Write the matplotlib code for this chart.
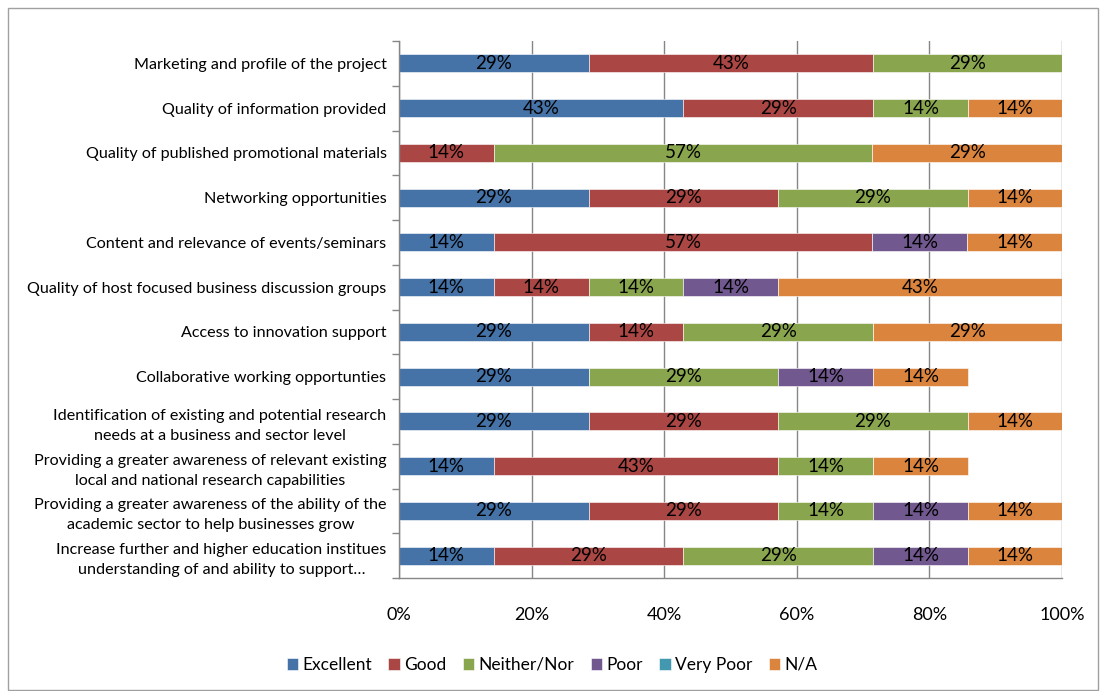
import matplotlib.pyplot as plt
import numpy as np

plt.rcParams['font.family'] = ['Lato', 'DejaVu Sans']

categories = [
    'Marketing and profile of the project',
    'Quality of information provided',
    'Quality of published promotional materials',
    'Networking opportunities',
    'Content and relevance of events/seminars',
    'Quality of host focused business discussion groups',
    'Access to innovation support',
    'Collaborative working opportunties',
    'Identification of existing and potential research\nneeds at a business and sector level',
    'Providing a greater awareness of relevant existing\nlocal and national research capabilities',
    'Providing a greater awareness of the ability of the\nacademic sector to help businesses grow',
    'Increase further and higher education institues\nunderstanding of and ability to support\u2026',
]

# percentage of respondents per rating (rows in category order)
excellent = [28.6, 42.9, 0.0, 28.6, 14.3, 14.3, 28.6, 28.6, 28.6, 14.3, 28.6, 14.3]
good = [42.9, 28.6, 14.3, 28.6, 57.1, 14.3, 14.3, 0.0, 28.6, 42.9, 28.6, 28.6]
neither = [28.6, 14.3, 57.1, 28.6, 0.0, 14.3, 28.6, 28.6, 28.6, 14.3, 14.3, 28.6]
poor = [0.0, 0.0, 0.0, 0.0, 14.3, 14.3, 0.0, 14.3, 0.0, 0.0, 14.3, 14.3]
very_poor = [0.0] * 12
na = [0.0, 14.3, 28.6, 14.3, 14.3, 42.9, 28.6, 14.3, 14.3, 14.3, 14.3, 14.3]

series = [
    ('Excellent', excellent, '#4572A7'),
    ('Good', good, '#AA4643'),
    ('Neither/Nor', neither, '#89A54E'),
    ('Poor', poor, '#71588F'),
    ('Very Poor', very_poor, '#4198AF'),
    ('N/A', na, '#DB843D'),
]

fig = plt.figure(figsize=(11.02, 6.91), dpi=100)
ax = fig.add_axes([399 / 1102, 1 - 578 / 691, 663 / 1102, 537 / 691])

y = np.arange(len(categories))
left = np.zeros(len(categories))
for name, vals, color in series:
    vals = np.array(vals)
    bars = ax.barh(y, vals, left=left, height=0.4, color=color,
                   edgecolor='white', linewidth=0.4, label=name)
    for rect, v in zip(bars, vals):
        if v > 0:
            ax.text(rect.get_x() + v / 2, rect.get_y() + rect.get_height() / 2,
                    f'{v:.0f}%', ha='center', va='center', fontsize=13.5,
                    color='black')
    left += vals

ax.set_ylim(len(categories) - 0.5, -0.5)
ax.set_xlim(0, 100)
ax.set_xticks(np.arange(0, 101, 20))
ax.set_xticklabels([f'{t}%' for t in range(0, 101, 20)], fontsize=13)
ax.tick_params(axis='x', length=0, pad=21)

ax.set_yticks(y)
ax.set_yticklabels(categories, fontsize=11.6, multialignment='center',
                   linespacing=1.55)
ax.tick_params(axis='y', length=0, pad=9)
# tick marks sit on the boundaries between rows
ax.set_yticks(np.arange(-0.5, len(categories) + 0.5, 1), minor=True)
ax.tick_params(axis='y', which='minor', length=5, color='#868686', width=1)

ax.grid(axis='x', color='#868686', linewidth=1)
ax.set_axisbelow(True)
for side in ['top', 'right']:
    ax.spines[side].set_visible(False)
for side in ['left', 'bottom']:
    ax.spines[side].set_color('#868686')
    ax.spines[side].set_linewidth(1)

ax.legend(loc='center', bbox_to_anchor=(552 / 1102, 1 - 665 / 691),
          bbox_transform=fig.transFigure, ncol=6, frameon=False,
          fontsize=12.5, handlelength=0.65, handleheight=0.65,
          handletextpad=0.25, columnspacing=0.95)

# chart area border
fig.patches.append(plt.Rectangle((8 / 1102, 1 / 691), 1090 / 1102, 682 / 691,
                                 transform=fig.transFigure, fill=False,
                                 edgecolor='#a0a0a0', linewidth=1))

fig.savefig('out.png', dpi=100)
